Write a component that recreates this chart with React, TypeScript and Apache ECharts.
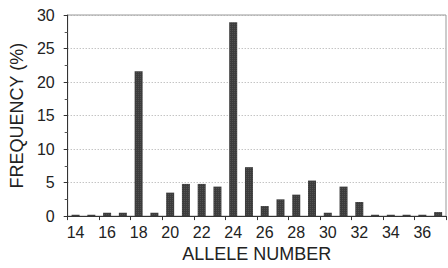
import React, { useEffect, useRef } from "react";
import * as echarts from "echarts";

const alleles = ["14","15","16","17","18","19","20","21","22","23","24","25","26","27","28","29","30","31","32","33","34","35","36","37"];
const frequency = [0.2,0.2,0.5,0.5,21.6,0.5,3.5,4.8,4.8,4.4,28.9,7.3,1.5,2.5,3.2,5.3,0.5,4.4,2.1,0.2,0.2,0.2,0.2,0.6];
const yTicks = { min: 0, max: 30, interval: 5 };

export default function App() {
  const ref = useRef<HTMLDivElement>(null);
  useEffect(() => {
    if (!ref.current) return;
    const chart = echarts.init(ref.current, null, { renderer: "svg" });
    const font = "Liberation Sans, Arial, sans-serif";
    chart.setOption({
      animation: false,
      backgroundColor: "#fff",
      grid: { left: 66, right: 2, top: 15, bottom: 48, show: true, borderColor: "#999", borderWidth: 1, backgroundColor: "transparent" },
      xAxis: {
        type: "category",
        data: alleles,
        boundaryGap: true,
        axisLine: { lineStyle: { color: "#333", width: 1 } },
        axisTick: { show: true, length: 4, lineStyle: { color: "#333" } },
        axisLabel: { interval: 1, color: "#222", fontSize: 16, fontFamily: font, margin: 8 },
        name: "ALLELE NUMBER",
        nameLocation: "middle",
        nameGap: 25,
        nameTextStyle: { color: "#222", fontSize: 18, fontFamily: font },
      },
      yAxis: {
        type: "value",
        min: yTicks.min,
        max: yTicks.max,
        interval: yTicks.interval,
        axisLine: { show: true, lineStyle: { color: "#333" } },
        axisTick: { show: true, length: 4, lineStyle: { color: "#333" } },
        minorTick: { show: true, splitNumber: 2, length: 3, lineStyle: { color: "#555" } },
        axisLabel: { color: "#222", fontSize: 16, fontFamily: font, margin: 13 },
        splitLine: { show: true, lineStyle: { color: "#aaa", type: [1, 2], width: 1 } },
        name: "FREQUENCY (%)",
        nameLocation: "middle",
        nameGap: 40,
        nameTextStyle: { color: "#222", fontSize: 18, fontFamily: font },
      },
      series: [
        {
          type: "bar",
          data: frequency,
          barWidth: 8,
          itemStyle: {
            color: "#3c3c3c",
            decal: {
              symbol: "rect",
              symbolSize: 0.6,
              color: "rgba(255,255,255,0.35)",
              dashArrayX: [1, 1],
              dashArrayY: [1, 1],
              rotation: 0,
            },
          },
        },
      ],
    });
    return () => chart.dispose();
  }, []);
  return <div ref={ref} style={{ position: "absolute", left: 0, top: 0, width: 448, height: 268 }} />;
}
